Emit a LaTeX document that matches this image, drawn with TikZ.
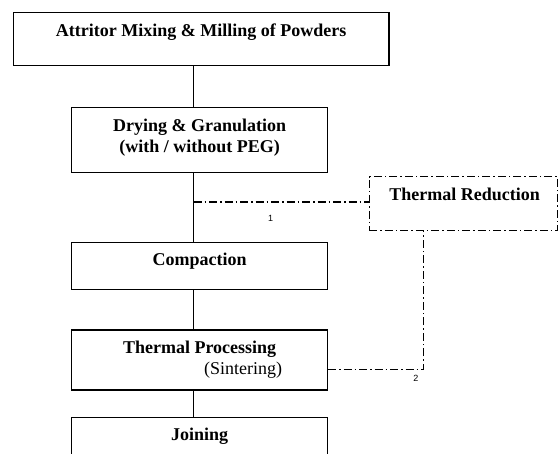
\documentclass[tikz,border=0pt]{standalone}
\usepackage{fontspec}
\setmainfont{Liberation Serif}
\newfontfamily\tagfont{Liberation Sans}
\usetikzlibrary{positioning}
\tikzset{
  stage/.style = {draw=black, line width=1.2pt, inner sep=0pt},
  stagetext/.style = {align=center, inner sep=0pt, anchor=north,
    font=\bfseries\fontsize{18}{21}\selectfont},
  flow/.style = {draw=black, line width=1.3pt},
  reroute/.style = {draw=black, line width=1.1pt,
    dash pattern=on 8pt off 3pt on 1.5pt off 3pt},
  sidebox/.style = {reroute, inner sep=0pt},
  steptag/.style = {font=\tagfont\fontsize{9}{10}\selectfont, inner sep=0pt}
}
\begin{document}
\begin{tikzpicture}[x=1pt, y=-1pt]
\path [use as bounding box, clip] (0,0) rectangle (559,454);
\coordinate (spine) at (193.7,0);
% main stages
\node [stage, minimum width=375.7pt, minimum height=53pt] (mix) at (201.15,38.8) {};
\node [stagetext] (mixtext) at ([yshift=-12pt]mix.north) {Attritor Mixing \& Milling of Powders};
\node [stage, minimum width=255.8pt, minimum height=65pt] (dry) at (199.6,140.2) {};
\node [stagetext] (drytext) at ([yshift=-12pt]dry.north) {Drying \& Granulation\\(with / without PEG)};
\node [stage, minimum width=255.8pt, minimum height=47pt] (comp) at (199.6,265.8) {};
\node [stagetext] (comptext) at ([yshift=-10.8pt]comp.north) {Compaction};
\node [stage, minimum width=255.8pt, minimum height=60pt] (therm) at (199.6,360) {};
\node [stagetext] (thermtext) at ([yshift=-11.3pt]therm.north)
  {Thermal Processing\\[0.6pt]\hspace*{87pt}{\mdseries (Sintering)}};
\node [stage, minimum width=255.8pt, minimum height=47pt] (join) at (199.6,440.8) {};
\node [stagetext] (jointext) at ([yshift=-11.3pt]join.north) {Joining};
% side step
\node [sidebox, minimum width=188.4pt, minimum height=54pt] (red) at (463.5,203.7) {};
\node [stagetext] (redtext) at ([xshift=1.2pt, yshift=-12pt]red.north) {Thermal Reduction};

\draw [flow] (mix.south -| spine) -- (dry.north -| spine);
\draw [flow] (dry.south -| spine) -- (comp.north -| spine);
\draw [flow] (comp.south -| spine) -- (therm.north -| spine);
\draw [flow] (therm.south -| spine) -- (join.north -| spine);

\draw [reroute] ([yshift=1.7pt]spine |- red.west) -- ([yshift=1.7pt]red.west)
  node [steptag, pos=0.44, below=13pt] (one) {1};
\draw [reroute] ([yshift=-9.3pt]therm.east) -| ([xshift=-40pt]red.south)
  node [steptag, pos=0.46, below=5pt] (two) {2};
\end{tikzpicture}
\end{document}
